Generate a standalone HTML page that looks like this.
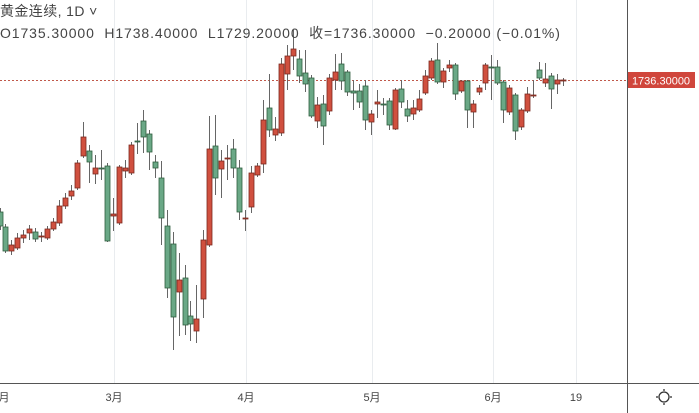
<!DOCTYPE html>
<html><head><meta charset="utf-8"><style>
body{margin:0;width:699px;height:413px;background:#fff;overflow:hidden;font-family:"Liberation Sans","Noto Sans CJK SC",sans-serif;}
svg{position:absolute;left:0;top:0}
.t{position:absolute;color:#444;font-size:14px;white-space:nowrap}
</style></head><body>
<svg id="s" width="699" height="413" xmlns="http://www.w3.org/2000/svg">
<g stroke="#e9ecef" stroke-width="1">
<line x1="114.5" y1="0" x2="114.5" y2="383"/><line x1="246.5" y1="0" x2="246.5" y2="383"/>
<line x1="372.5" y1="0" x2="372.5" y2="383"/><line x1="493.5" y1="0" x2="493.5" y2="383"/>
<line x1="576.5" y1="0" x2="576.5" y2="383"/>
</g>
<line x1="0" y1="80.5" x2="627" y2="80.5" stroke="#c0584a" stroke-dasharray="2,2"/>
<g id="c"></g>
<line x1="0" y1="383.5" x2="699" y2="383.5" stroke="#555"/>
<line x1="627.5" y1="0" x2="627.5" y2="413" stroke="#555"/>
<rect x="628" y="72" width="67" height="16" fill="#d0463c"/>
<text x="661" y="84.5" font-size="11" fill="#fff" text-anchor="middle" font-family="Liberation Sans">1736.30000</text>
<g font-size="11" fill="#444" text-anchor="middle" font-family="Liberation Sans,Noto Sans CJK SC,sans-serif">
<text x="4" y="401">月</text><text x="114" y="401">3月</text><text x="246" y="401">4月</text>
<text x="372" y="401">5月</text><text x="493" y="401">6月</text><text x="576" y="401">19</text>
</g>
<circle cx="664" cy="397" r="5" fill="none" stroke="#333" stroke-width="1.3"/>
<g stroke="#333" stroke-width="1.3"><line x1="664" y1="389" x2="664" y2="391"/><line x1="664" y1="403" x2="664" y2="405"/><line x1="656" y1="397" x2="658" y2="397"/><line x1="670" y1="397" x2="672" y2="397"/></g>
</svg>
<div class="t" style="left:0;top:1px;letter-spacing:0.4px">黄金连续, 1D ˅</div>
<div class="t" style="left:0;top:23px;letter-spacing:0.9px">O1735.30000&nbsp;&nbsp;H1738.40000&nbsp;&nbsp;L1729.20000&nbsp;&nbsp;收=1736.30000&nbsp;&nbsp;−0.20000 (−0.01%)</div>
<script>
var d=[
[0,'g',212,226,208,230],[5,'g',227,251,224,253],[11,'r',245,251,240,255],[17,'r',238,248,233,250],[23,'r',235,238,230,243],[29,'r',229,233,225,240],[35,'g',232,239,228,242],[41,'r',236,237,232,242],[47,'r',229,238,226,240],[53,'r',222,229,218,231],[59,'r',206,223,200,226],[65,'r',198,206,193,209],[71,'r',191,196,185,200],[77,'r',163,188,160,190],[83,'r',137,156,122,158],[89,'g',151,162,145,183],[95,'r',168,174,155,184],[101,'g',168,169,150,180],[107,'g',166,241,163,242],[113,'r',214,216,198,231],[119,'r',167,223,165,225],[125,'r',168,171,160,178],[131,'r',145,173,142,175],[137,'g',141,142,123,154],[143,'g',121,137,110,153],[149,'g',134,152,130,170],[155,'g',162,168,155,178],[161,'g',178,218,161,245],[167,'g',226,288,210,298],[173,'g',244,317,232,350],[179,'r',280,292,253,336],[185,'g',278,325,265,335],[190,'g',316,324,301,341],[196,'r',319,331,285,343],[203,'r',240,299,230,318],[209,'r',149,245,116,247],[215,'g',146,178,115,195],[221,'r',161,169,150,198],[227,'r',158,159,145,180],[233,'g',149,168,139,178],[239,'g',168,212,160,220],[245,'r',218,219,210,231],[251,'r',173,207,166,213],[257,'r',166,175,163,177],[263,'r',120,164,100,173],[269,'g',108,130,74,137],[275,'r',129,135,117,141],[281,'r',64,133,58,136],[287,'r',56,74,45,90],[293,'r',49,56,30,70],[299,'g',59,76,50,83],[305,'g',73,84,50,92],[311,'g',78,116,75,118],[317,'r',105,121,97,128],[323,'g',104,126,95,145],[329,'r',78,111,74,115],[335,'r',72,80,54,90],[341,'g',64,81,53,90],[347,'g',72,92,70,96],[353,'g',91,93,80,110],[359,'g',91,102,84,108],[365,'g',86,120,80,130],[371,'r',114,122,110,135],[377,'r',102,104,90,118],[383,'g',104,105,98,115],[389,'g',101,125,98,130],[395,'r',90,129,88,130],[401,'g',89,102,80,108],[407,'g',109,116,100,122],[413,'r',108,114,100,120],[419,'r',99,110,90,112],[425,'r',76,93,70,95],[431,'r',61,78,58,80],[437,'g',60,82,43,84],[443,'r',71,82,68,88],[449,'r',65,68,60,72],[455,'g',65,94,63,100],[461,'r',81,91,80,93],[467,'g',81,110,80,128],[473,'r',104,112,100,128],[479,'r',88,92,85,95],[485,'r',65,83,63,90],[491,'g',67,68,55,100],[497,'g',67,83,60,85],[503,'g',82,110,80,123],[509,'r',88,112,85,115],[515,'g',95,131,93,140],[521,'r',110,127,108,130],[527,'r',94,111,87,113],[533,'r',95,96,80,98],[539,'g',70,78,62,80],[545,'r',79,83,63,87],[551,'g',76,89,73,109],[557,'r',80,84,74,94],[563,'r',80,81,78,86]];
var g=document.getElementById('c'),h='';
d.forEach(function(c){var x=c[0],f=c[1]=='r'?'#d0503f':'#6aa886',s=c[1]=='r'?'#7a2a20':'#2f5d3e';
h+='<line x1="'+(x+.5)+'" y1="'+c[4]+'" x2="'+(x+.5)+'" y2="'+c[5]+'" stroke="#666"/>';
var hh=Math.max(c[3]-c[2],1);
h+='<rect x="'+(x-2)+'" y="'+c[2]+'" width="5" height="'+hh+'" fill="'+f+'" stroke="'+s+'" stroke-width="0.8"/>';});
g.innerHTML=h;
</script>
</body></html>
